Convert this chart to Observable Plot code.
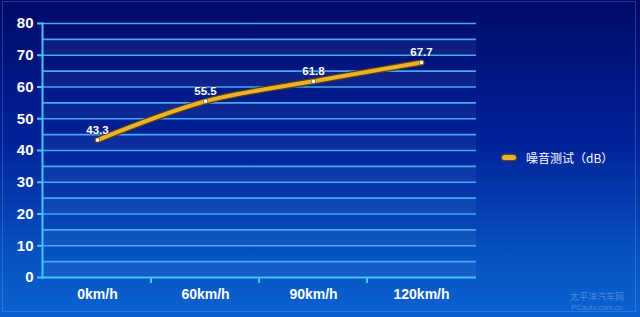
<!DOCTYPE html>
<html>
<head>
<meta charset="utf-8">
<script src="https://cdn.jsdelivr.net/npm/d3@7"></script>
<script src="https://cdn.jsdelivr.net/npm/@observablehq/plot@0.6"></script>
<style>
  html, body { margin: 0; padding: 0; background: #0a3a9a; }
  #wrap { position: relative; width: 640px; height: 317px; overflow: hidden;
    background: linear-gradient(to bottom, #000a68 0%, #01229a 45%, #0652c0 80%, #0a62d0 100%);
    font-family: "Liberation Sans", Arial, sans-serif; }
  #wrap svg { position: absolute; left: 0; top: 0; background: transparent; }
  #border { position: absolute; left: 2px; top: 1px; width: 634px; height: 311px;
    border: 1px solid rgba(140,180,255,0.25); box-sizing: border-box; pointer-events: none; }
  #legend { position: absolute; left: 502px; top: 149px; display: flex; align-items: center;
    color: #fff; font-size: 12px; font-family: "Noto Sans CJK SC", sans-serif; }
  #legend .sw { width: 14px; height: 5px; border-radius: 3px; background: #eab12c;
    box-shadow: 0 0 0 1px #6a4a10; margin-right: 10px; }
  .wm { position: absolute; width: 70px; text-align: center; color: rgba(200,220,255,0.35);
    font-family: "Noto Sans CJK SC", sans-serif; white-space: nowrap; }
  #wm1 { left: 562px; top: 292px; font-size: 9px; line-height: 10px; }
  #wm2 { left: 562px; top: 304px; font-size: 7.5px; line-height: 8px; font-family: "Liberation Sans", Arial, sans-serif; }
</style>
</head>
<body>
<div id="wrap">
  <div id="border"></div>
  <div id="legend"><span class="sw"></span><span>噪音测试（dB）</span></div>
  <div class="wm" id="wm1">太平洋汽车网</div>
  <div class="wm" id="wm2">PCauto.com.cn</div>
</div>
<script>
const categories = ["0km/h", "60km/h", "90km/h", "120km/h"];
const values = [43.3, 55.5, 61.8, 67.7];
const yTicks = [0, 10, 20, 30, 40, 50, 60, 70, 80];
const gridLines = [5, 10, 15, 20, 25, 30, 35, 40, 45, 50, 55, 60, 65, 70, 75, 80];
const bandStarts = [0, 10, 20, 30, 40, 50, 60, 70];
const seriesName = "噪音测试（dB）";

const data = categories.map((c, i) => ({cat: c, v: values[i]}));

const boundaryTicks = (index, scales, values, dims) => {
  const g = d3.create("svg:g");
  const y0 = scales.y(0);
  categories.slice(1).forEach(c => {
    const xp = scales.x(c);
    g.append("line").attr("x1", xp).attr("x2", xp).attr("y1", y0).attr("y2", y0 + 6)
      .attr("stroke", "#45c2ff").attr("stroke-width", 2);
  });
  return g.node();
};

const chart = Plot.plot({
  width: 640,
  height: 317,
  marginLeft: 42,
  marginRight: 164,
  marginTop: 23,
  marginBottom: 40,
  style: {background: "transparent", color: "#fff", fontFamily: "Liberation Sans, Arial, sans-serif"},
  x: {type: "band", domain: categories, padding: 0, label: null},
  y: {domain: [0, 80], label: null},
  marks: [
    Plot.rect(bandStarts, {y1: d => d, y2: d => d + 5, fill: "#ffffff", fillOpacity: 0.05}),
    Plot.ruleY(gridLines, {stroke: "#45a8f0", strokeWidth: 1.6}),
    Plot.ruleY([0], {stroke: "#45c2ff", strokeWidth: 2}),
    Plot.frame({anchor: "left", stroke: "#45c2ff", strokeWidth: 2}),
    Plot.axisY(yTicks, {tickSize: 5, tickPadding: 4, stroke: "#45c2ff", strokeWidth: 2,
      fill: "#fff", fontSize: 15, fontWeight: "bold", label: null}),
    Plot.axisX({tickSize: 0, tickPadding: 12, fill: "#fff", fontSize: 14, fontWeight: "bold", label: null}),
    boundaryTicks,
    Plot.line(data, {x: "cat", y: "v", curve: "catmull-rom", stroke: "#5a3e0c", strokeWidth: 6.5}),
    Plot.line(data, {x: "cat", y: "v", curve: "catmull-rom", stroke: "#eab12c", strokeWidth: 4}),
    Plot.dot(data, {x: "cat", y: "v", symbol: "square", r: 2.2, fill: "#fff", stroke: "#333", strokeWidth: 0.5}),
    Plot.text(data, {x: "cat", y: "v", text: d => d.v.toFixed(1), dy: -10, fill: "#fff", fontSize: 11.5,
      fontWeight: "bold", stroke: "#0a2a80", strokeWidth: 1.5, strokeOpacity: 0.6})
  ]
});
document.getElementById("wrap").prepend(chart);
</script>
</body>
</html>
